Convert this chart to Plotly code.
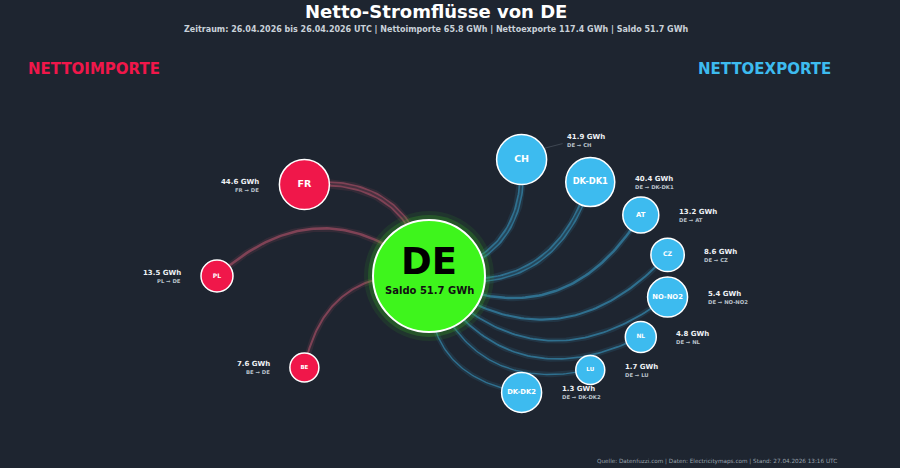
import numpy as np
import plotly.graph_objects as go

# --- data ---
hub = "DE"
zeitraum = "26.04.2026 bis 26.04.2026 UTC"
stand = "27.04.2026 13:16 UTC"
netto_import = 65.8
netto_export = 117.4
saldo = 51.7

import_partner = ["FR", "PL", "BE"]
import_gwh = [44.6, 13.5, 7.6]

export_partner = ["CH", "DK-DK1", "AT", "CZ", "NO-NO2", "NL", "LU", "DK-DK2"]
export_gwh = [41.9, 40.4, 13.2, 8.6, 5.4, 4.8, 1.7, 1.3]

# --- layout / styles (pixel space, y down) ---
W, H = 900, 468
HUB_X, HUB_Y, HUB_R = 429, 276, 56
BG = "#1e2530"
RED = "#f0174a"
BLUE = "#3dbbef"
GREEN = "#3ef51c"
FONT = "DejaVu Sans"

# nodes sit on ellipses around the hub
imp_ang = np.radians(np.linspace(126, 234, len(import_partner)))
imp_x = HUB_X + 212 * np.cos(imp_ang)
imp_y = HUB_Y - 113 * np.sin(imp_ang)
imp_r = [25, 16, 14.5]
imp_label_dy = [0, 0, 0]

exp_ang = np.radians(np.linspace(67.5, -67.5, len(export_partner)))
exp_x = HUB_X + 242 * np.cos(exp_ang)
exp_y = HUB_Y - 126 * np.sin(exp_ang)
exp_r = [25, 24.5, 18, 16.7, 20, 15.5, 14.5, 20]
exp_label_dy = [-20, 0, 0, 0, 0, 0, 0, 0]


def bezier(x1, y1, k=0.45, n=80):
    # quadratic curve from hub to partner, bent to one side of the chord
    dx, dy = x1 - HUB_X, y1 - HUB_Y
    cx = (HUB_X + x1) / 2 - k * dy
    cy = (HUB_Y + y1) / 2 + k * dx
    t = np.linspace(0, 1, n)
    bx = (1 - t) ** 2 * HUB_X + 2 * (1 - t) * t * cx + t ** 2 * x1
    by = (1 - t) ** 2 * HUB_Y + 2 * (1 - t) * t * cy + t ** 2 * y1
    return bx, by


def node_font(name, r):
    return r * (0.38 if len(name) <= 2 else 0.34)


fig = go.Figure()

# edges
for xs, ys, vals, rgb in [(imp_x, imp_y, import_gwh, "190,85,112"),
                          (exp_x, exp_y, export_gwh, "58,160,205")]:
    for x1, y1, v in zip(xs, ys, vals):
        bx, by = bezier(x1, y1)
        w = 1.3 + v * 0.09
        fig.add_trace(go.Scatter(x=bx, y=by, mode="lines", hoverinfo="skip",
                                 line=dict(color=f"rgba({rgb},0.13)", width=w + 4)))
        fig.add_trace(go.Scatter(x=bx, y=by, mode="lines", hoverinfo="skip",
                                 line=dict(color=f"rgba({rgb},0.55)", width=w)))
        if w > 3:
            fig.add_trace(go.Scatter(x=bx, y=by, mode="lines", hoverinfo="skip",
                                     line=dict(color="rgba(30,37,48,0.55)", width=w * 0.35)))

# connector for shifted labels
for x, y, r, dy in zip(exp_x, exp_y, exp_r, exp_label_dy):
    if dy:
        fig.add_trace(go.Scatter(x=[x + r * 0.7, x + r + 16], y=[y - r * 0.4, y + dy + 4],
                                 mode="lines", hoverinfo="skip",
                                 line=dict(color="rgba(150,160,170,0.35)", width=0.8)))

# hub glow + hub
for extra, alpha in [(9, 0.10), (5, 0.22)]:
    fig.add_trace(go.Scatter(x=[HUB_X], y=[HUB_Y], mode="markers", hoverinfo="skip",
                             marker=dict(size=2 * (HUB_R + extra), color=f"rgba(60,200,30,{alpha})",
                                         opacity=1, line=dict(width=0))))
fig.add_trace(go.Scatter(x=[HUB_X], y=[HUB_Y], mode="markers", hoverinfo="skip",
                         marker=dict(size=2 * HUB_R, color=GREEN, opacity=1,
                                     line=dict(color="white", width=2))))

# partner nodes
for xs, ys, rs, names, col in [(imp_x, imp_y, imp_r, import_partner, RED),
                               (exp_x, exp_y, exp_r, export_partner, BLUE)]:
    fig.add_trace(go.Scatter(
        x=xs, y=ys, mode="markers+text", text=[f"<b>{n}</b>" for n in names],
        textposition="middle center",
        textfont=dict(family=FONT, color="white",
                      size=[node_font(n, r) for n, r in zip(names, rs)]),
        marker=dict(size=[2 * r for r in rs], color=col, opacity=1,
                    line=dict(color="white", width=1.5)),
        hovertemplate="%{text}<extra></extra>"))

ann = []
# hub text
ann.append(dict(x=HUB_X, y=HUB_Y - 15, xref="x", yref="y", text=f"<b>{hub}</b>", showarrow=False,
                font=dict(family=FONT, size=37, color="black")))
ann.append(dict(x=HUB_X, y=HUB_Y + 14, xref="x", yref="y", text=f"<b>Saldo {saldo} GWh</b>",
                showarrow=False, font=dict(family=FONT, size=10, color="#111111")))

# value labels
for x, y, r, dy, n, v in zip(imp_x, imp_y, imp_r, imp_label_dy, import_partner, import_gwh):
    ann.append(dict(x=x - r - 18, y=y + dy - 3, xref="x", yref="y", xanchor="right",
                    text=f"<b>{v} GWh</b>", showarrow=False,
                    font=dict(family=FONT, size=7, color="#eef1f4")))
    ann.append(dict(x=x - r - 18, y=y + dy + 5, xref="x", yref="y", xanchor="right",
                    text=f"<b>{n} → {hub}</b>", showarrow=False,
                    font=dict(family=FONT, size=5.3, color="#b9c1ca")))
for x, y, r, dy, n, v in zip(exp_x, exp_y, exp_r, exp_label_dy, export_partner, export_gwh):
    ann.append(dict(x=x + r + 18, y=y + dy - 3, xref="x", yref="y", xanchor="left",
                    text=f"<b>{v} GWh</b>", showarrow=False,
                    font=dict(family=FONT, size=7, color="#eef1f4")))
    ann.append(dict(x=x + r + 18, y=y + dy + 5, xref="x", yref="y", xanchor="left",
                    text=f"<b>{hub} → {n}</b>", showarrow=False,
                    font=dict(family=FONT, size=5.3, color="#b9c1ca")))

# headings, title, footer
ann.append(dict(x=26, y=69, xref="x", yref="y", xanchor="left", text="<b>NETTOIMPORTE</b>",
                showarrow=False, font=dict(family=FONT, size=15, color=RED)))
ann.append(dict(x=833, y=69, xref="x", yref="y", xanchor="right", text="<b>NETTOEXPORTE</b>",
                showarrow=False, font=dict(family=FONT, size=15, color=BLUE)))
ann.append(dict(x=436, y=11, xref="x", yref="y", text="<b>Netto-Stromflüsse von DE</b>",
                showarrow=False, font=dict(family=FONT, size=18, color="white")))
ann.append(dict(x=436, y=29, xref="x", yref="y",
                text=(f"<b>Zeitraum: {zeitraum} | Nettoimporte {netto_import} GWh | "
                      f"Nettoexporte {netto_export} GWh | Saldo {saldo} GWh</b>"),
                showarrow=False, font=dict(family=FONT, size=8, color="#c9d1d9")))
ann.append(dict(x=839, y=461, xref="x", yref="y", xanchor="right",
                text=f"Quelle: Datenfuzzi.com | Daten: Electricitymaps.com | Stand: {stand}",
                showarrow=False, font=dict(family=FONT, size=5.7, color="#9aa3ad")))

fig.update_layout(
    width=W, height=H,
    paper_bgcolor=BG, plot_bgcolor=BG,
    margin=dict(l=0, r=0, t=0, b=0),
    showlegend=False,
    xaxis=dict(range=[0, W], visible=False, fixedrange=True),
    yaxis=dict(range=[H, 0], visible=False, fixedrange=True),
    annotations=ann,
)

fig.write_html("out.html", config={"displayModeBar": False},
               post_script="document.body.style.margin='0';"
                           "document.body.style.background='#1e2530';")
